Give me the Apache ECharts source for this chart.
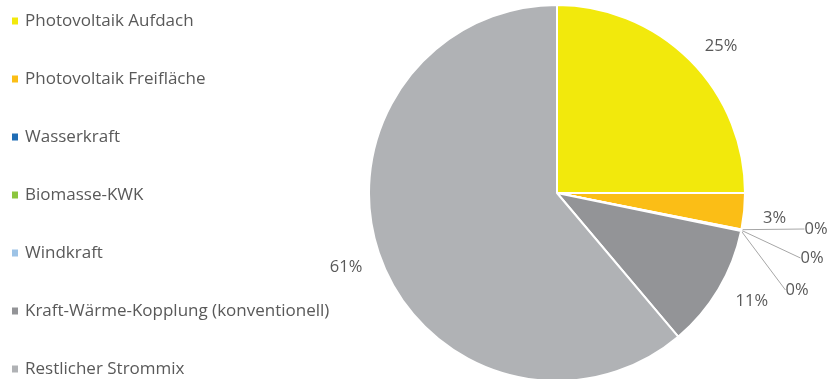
<!DOCTYPE html>
<html>
<head>
<meta charset="utf-8">
<script src="https://cdn.jsdelivr.net/npm/echarts@6/dist/echarts.min.js"></script>
<style>
html,body{margin:0;padding:0;background:#fff;}
#chart{width:829px;height:379px;}
</style>
</head>
<body>
<div id="chart"></div>
<script>
const categories = [
  'Photovoltaik Aufdach',
  'Photovoltaik Freifläche',
  'Wasserkraft',
  'Biomasse-KWK',
  'Windkraft',
  'Kraft-Wärme-Kopplung (konventionell)',
  'Restlicher Strommix'
];
const values = [25.0, 3.1, 0.05, 0.05, 0.05, 10.6, 61.15];
const colors = ['#F2E90C', '#FBBE16', '#1F6DB5', '#8CC63E', '#9DC3E6', '#939497', '#B0B2B5'];

const total = values.reduce((a, b) => a + b, 0);
const zeroLabelPos = { 2: [816, 229], 3: [812, 258], 4: [797, 290] };
const labelShift = { 0: -4, 1: 6, 5: 5, 6: 5 };

const chart = echarts.init(document.getElementById('chart'), null, { renderer: 'canvas' });
chart.setOption({
  animation: false,
  color: colors,
  legend: {
    orient: 'vertical',
    left: 10,
    top: 12,
    height: 420,
    padding: 0,
    itemWidth: 8,
    itemHeight: 9,
    itemGap: 40,
    icon: 'rect',
    textStyle: { fontFamily: 'Open Sans', fontSize: 17, color: '#595959', lineHeight: 18, padding: [0, 0, 0, 1] },
    data: categories
  },
  series: [{
    type: 'pie',
    center: [557, 193],
    radius: 188,
    startAngle: 90,
    clockwise: true,
    avoidLabelOverlap: false,
    itemStyle: { borderColor: '#fff', borderWidth: 2 },
    label: {
      show: true,
      position: 'outside',
      fontFamily: 'Open Sans',
      fontSize: 16.5,
      color: '#595959',
      formatter: p => Math.round(p.value / total * 100) + '%'
    },
    labelLine: { show: false, length: 14, length2: 0 },
    labelLayout: function (params) {
      const pos = zeroLabelPos[params.dataIndex];
      if (pos) {
        return { x: pos[0], y: pos[1], align: 'center', verticalAlign: 'middle' };
      }
      if (labelShift[params.dataIndex] != null) {
        return { dy: labelShift[params.dataIndex] };
      }
      return {};
    },
    data: categories.map((c, i) => {
      const item = { name: c, value: values[i] };
      if (zeroLabelPos[i]) {
        item.labelLine = { show: true, lineStyle: { color: '#A6A6A6', width: 1 } };
      }
      return item;
    })
  }]
});
</script>
</body>
</html>
